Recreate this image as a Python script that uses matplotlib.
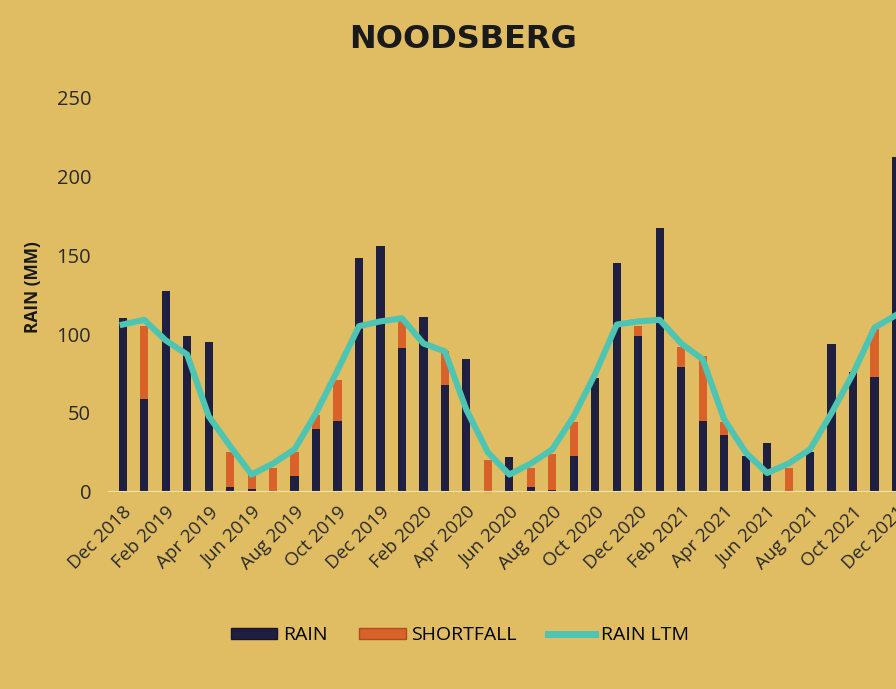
import matplotlib.pyplot as plt
from matplotlib.patches import Patch
from matplotlib.lines import Line2D

plt.rcParams['font.family'] = ['Open Sans', 'DejaVu Sans']

# Monthly data, Dec 2018 - Dec 2021
months = ["Dec 2018", "Jan 2019", "Feb 2019", "Mar 2019", "Apr 2019", "May 2019",
          "Jun 2019", "Jul 2019", "Aug 2019", "Sep 2019", "Oct 2019", "Nov 2019",
          "Dec 2019", "Jan 2020", "Feb 2020", "Mar 2020", "Apr 2020", "May 2020",
          "Jun 2020", "Jul 2020", "Aug 2020", "Sep 2020", "Oct 2020", "Nov 2020",
          "Dec 2020", "Jan 2021", "Feb 2021", "Mar 2021", "Apr 2021", "May 2021",
          "Jun 2021", "Jul 2021", "Aug 2021", "Sep 2021", "Oct 2021", "Nov 2021",
          "Dec 2021"]
rain = [110, 59, 127, 99, 95, 3, 2, 0, 10, 40, 45, 148,
        156, 91, 111, 68, 84, 0, 22, 3, 1, 23, 72, 145,
        99, 167, 79, 45, 36, 23, 31, 0, 25, 94, 76, 73,
        212]
shortfall = [0, 46, 0, 0, 0, 22, 10, 15, 15, 9, 26, 0,
             0, 18, 0, 21, 0, 20, 0, 12, 23, 21, 0, 0,
             6, 0, 13, 41, 8, 0, 0, 15, 0, 0, 0, 30,
             0]
rain_ltm = [106, 109, 96, 87, 48, 29, 11, 18, 27, 50, 77, 105,
            108, 110, 94, 89, 52, 25, 11, 18, 27, 48, 75, 106,
            108, 109, 94, 84, 46, 25, 12, 18, 27, 50, 75, 104,
            112]

BG = '#E0BD63'
NAVY = '#1F1F42'
ORANGE = '#D9622B'
TEAL = '#4EC4B2'

fig = plt.figure(figsize=(8.96, 6.89), dpi=100, facecolor=BG)
ax = fig.add_axes([0.1202, 0.286, 0.8798, 0.573], facecolor=BG)

x = list(range(len(months)))
ax.bar(x, rain, width=0.38, color=NAVY, zorder=2)
ax.bar(x, shortfall, width=0.38, bottom=rain, color=ORANGE, zorder=2)
ax.plot(x, rain_ltm, color=TEAL, lw=4.4, solid_joinstyle='round', zorder=3)

ax.set_xlim(-0.7, 35.95)
ax.set_ylim(0, 250)
ax.set_yticks([0, 50, 100, 150, 200, 250])
ax.tick_params(axis='y', length=0, pad=12, labelsize=14.5, labelcolor='#2a2a2a')
ax.set_xticks(x[::2])
ax.set_xticklabels(months[::2], rotation=45, ha='right', rotation_mode='anchor')
ax.tick_params(axis='x', length=0, pad=8, labelsize=13.5, labelcolor='#2a2a2a')

for s in ax.spines.values():
    s.set_visible(False)
ax.axhline(0, color='#F2E2B4', lw=1.5, zorder=4)

ax.set_ylabel("RAIN (MM)", fontsize=12.5, fontweight='bold', color='#1a1a1a')
ax.yaxis.set_label_coords(-0.083, 0.519)

fig.text(0.517, 0.943, "NOODSBERG", ha='center', va='center', fontsize=23,
         fontweight='bold', color='#1a1a1a', family='DejaVu Sans')

handles = [Patch(facecolor=NAVY, edgecolor='#15152e'),
           Patch(facecolor=ORANGE, edgecolor='#b04a20'),
           Line2D([0], [0], color=TEAL, lw=5)]
fig.legend(handles, ["RAIN", "SHORTFALL", "RAIN LTM"], loc='center',
           bbox_to_anchor=(0.513, 0.078), ncol=3, frameon=False, fontsize=14,
           handlelength=2.4, handleheight=0.45, handletextpad=0.3, columnspacing=1.6)

fig.savefig("out.png", dpi=100, facecolor=BG)
